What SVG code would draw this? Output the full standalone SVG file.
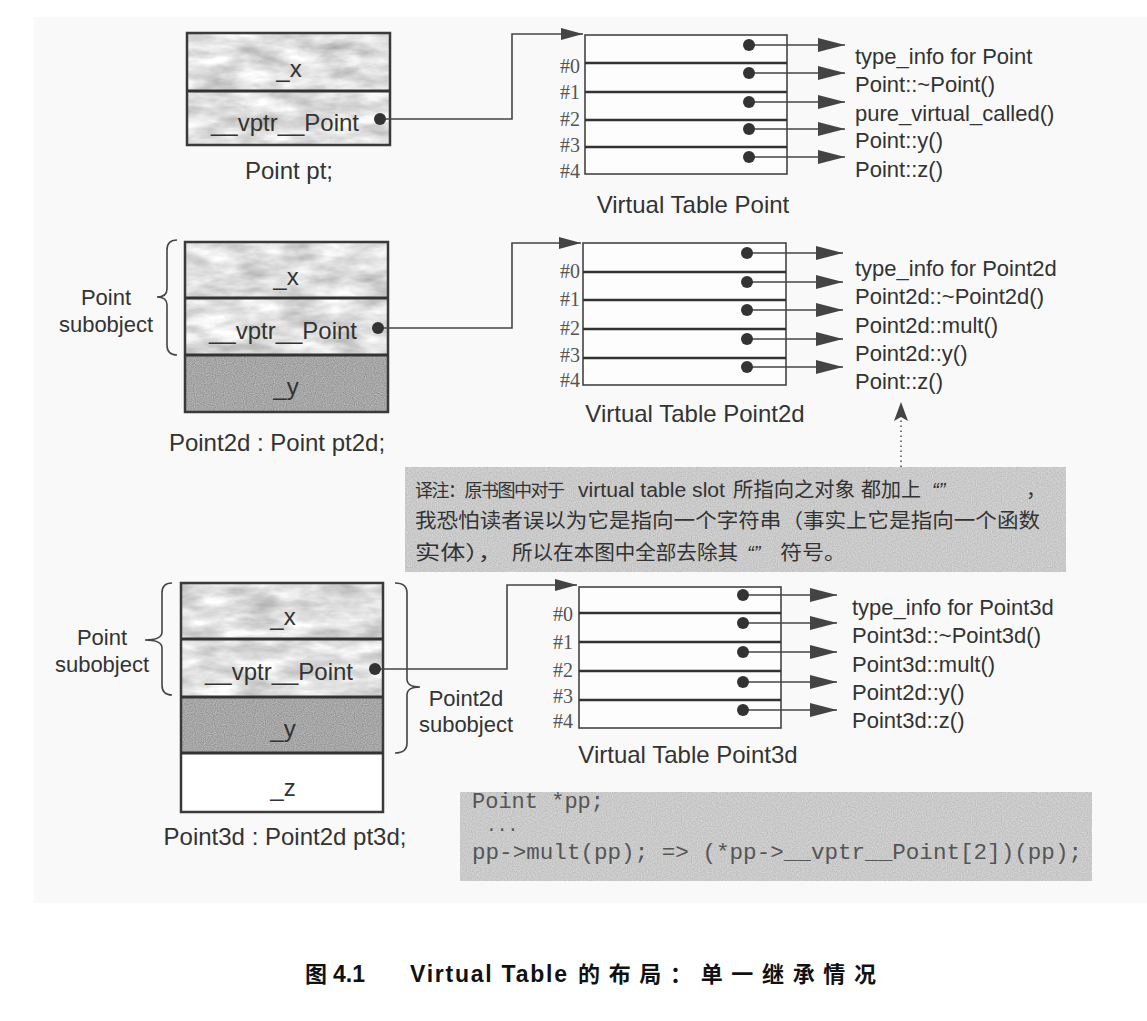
<svg xmlns="http://www.w3.org/2000/svg" width="1147" height="1021" viewBox="0 0 1147 1021">
<defs>
<style>
.t{font-family:"Liberation Sans",Arial,sans-serif;fill:#333}
.big{font-size:24px}
.fn{font-size:22px}
.sub{font-size:22px}
.hash{font-family:"Liberation Serif","Times New Roman",serif;font-size:20px;fill:#555;text-anchor:end}
.mid{text-anchor:middle}
.cjk{font-family:"Noto Sans CJK SC","Noto Sans CJK JP",sans-serif;fill:#333;font-size:20px}
.code{font-family:"Liberation Mono","Courier New",monospace;font-size:22px;fill:#555}
.cap{font-family:"Liberation Sans","Noto Sans CJK SC",sans-serif;font-weight:bold;fill:#111}
.box{fill:none;stroke:#3a3a3a;stroke-width:2.5}
.div{stroke:#333;stroke-width:3}
.tbl{fill:#fdfdfd;stroke:#444;stroke-width:1.6}
.row{stroke:#333;stroke-width:2.6}
.ptr{fill:none;stroke:#444;stroke-width:1.6}
.slot{stroke:#444;stroke-width:1.6;marker-end:url(#ah)}
.dot{fill:#333}
.brace{fill:none;stroke:#444;stroke-width:1.6}
</style>
<marker id="ah" markerWidth="28" markerHeight="14" refX="27" refY="7" orient="auto" markerUnits="userSpaceOnUse">
<path d="M0,0 L27,7 L0,14 z" fill="#444"/>
</marker>
<marker id="ahp" markerWidth="23" markerHeight="12" refX="22" refY="6" orient="auto" markerUnits="userSpaceOnUse">
<path d="M0,0 L22,6 L0,12 z" fill="#444"/>
</marker>
<marker id="ahu" markerWidth="20" markerHeight="14" refX="19" refY="7" orient="auto" markerUnits="userSpaceOnUse">
<path d="M0,0 L19,7 L0,14 L4,7 z" fill="#444"/>
</marker>
<filter id="marble" x="0" y="0" width="1" height="1" color-interpolation-filters="sRGB">
<feTurbulence type="fractalNoise" baseFrequency="0.025 0.07" numOctaves="4" seed="5"/>
<feColorMatrix type="matrix" values="0.45 0 0 0 0.65  0.45 0 0 0 0.65  0.45 0 0 0 0.65  0 0 0 0 1"/>
</filter>
<filter id="stipple" x="0" y="0" width="1" height="1" color-interpolation-filters="sRGB">
<feTurbulence type="fractalNoise" baseFrequency="0.9" numOctaves="1" seed="2"/>
<feColorMatrix type="matrix" values="0.3 0 0 0 0.5  0.3 0 0 0 0.5  0.3 0 0 0 0.5  0 0 0 0 1"/>
</filter>
<filter id="paper" x="0" y="0" width="1" height="1" color-interpolation-filters="sRGB">
<feTurbulence type="fractalNoise" baseFrequency="0.8" numOctaves="1" seed="9"/>
<feColorMatrix type="matrix" values="0.2 0 0 0 0.69  0.2 0 0 0 0.69  0.2 0 0 0 0.69  0 0 0 0 1"/>
</filter>
</defs>

<rect x="0" y="0" width="1147" height="1021" fill="#ffffff"/>
<rect x="34" y="17" width="1113" height="886" fill="#f9f9f9"/>

<!-- Object: Point pt -->
<g id="obj-pt">
<rect x="187" y="33" width="203" height="58" fill="#ddd" filter="url(#marble)"/>
<rect x="187" y="91" width="203" height="54" fill="#ddd" filter="url(#marble)"/>
<rect class="box" x="187" y="33" width="203" height="112"/>
<line class="div" x1="187" y1="91" x2="390" y2="91"/>
<text class="t big mid" x="289" y="77">_x</text>
<text class="t big mid" x="285" y="131">__vptr__Point</text>
<text class="t big mid" x="289" y="179">Point pt;</text>
</g>

<!-- Object: Point2d pt2d -->
<g id="obj-pt2d">
<rect x="185" y="242" width="203" height="56" fill="#ddd" filter="url(#marble)"/>
<rect x="185" y="298" width="203" height="57" fill="#ddd" filter="url(#marble)"/>
<rect x="185" y="355" width="203" height="57" fill="#aaa" filter="url(#stipple)"/>
<rect class="box" x="185" y="242" width="203" height="170"/>
<line class="div" x1="185" y1="298" x2="388" y2="298"/>
<line class="div" x1="185" y1="355" x2="388" y2="355"/>
<text class="t big mid" x="286" y="285">_x</text>
<text class="t big mid" x="283" y="339">__vptr__Point</text>
<text class="t big mid" x="286" y="395">_y</text>
<text class="t big mid" x="277" y="451">Point2d : Point pt2d;</text>
</g>

<g id="lbl-pt2d-point-sub">
<path class="brace" d="M177,240 Q167,240 167,250 L167,289 Q167,297 157,297 Q167,297 167,305 L167,345 Q167,355 177,355"/>
<text class="t sub mid" x="106" y="305">Point</text>
<text class="t sub mid" x="106" y="332">subobject</text>
</g>

<!-- Object: Point3d pt3d -->
<g id="obj-pt3d">
<rect x="181" y="583" width="202" height="56" fill="#ddd" filter="url(#marble)"/>
<rect x="181" y="639" width="202" height="58" fill="#ddd" filter="url(#marble)"/>
<rect x="181" y="697" width="202" height="56" fill="#aaa" filter="url(#stipple)"/>
<rect x="181" y="753" width="202" height="59" fill="#ffffff"/>
<rect class="box" x="181" y="583" width="202" height="229"/>
<line class="div" x1="181" y1="639" x2="383" y2="639"/>
<line class="div" x1="181" y1="697" x2="383" y2="697"/>
<line class="div" x1="181" y1="753" x2="383" y2="753"/>
<text class="t big mid" x="283" y="625">_x</text>
<text class="t big mid" x="279" y="680">__vptr__Point</text>
<text class="t big mid" x="283" y="737">_y</text>
<text class="t big mid" x="283" y="796">_z</text>
<text class="t big mid" x="285" y="845">Point3d : Point2d pt3d;</text>
</g>

<g id="lbl-pt3d-point-sub">
<path class="brace" d="M172,583 Q162,583 162,593 L162,632 Q162,640 145,640 Q162,640 162,648 L162,685 Q162,695 172,695"/>
<text class="t sub mid" x="102" y="645">Point</text>
<text class="t sub mid" x="102" y="672">subobject</text>
</g>

<g id="lbl-pt3d-point2d-sub">
<path class="brace" d="M395,583 Q407,583 407,593 L407,679 Q407,687 420,687 Q407,687 407,695 L407,743 Q407,753 395,753"/>
<text class="t sub mid" x="466" y="706">Point2d</text>
<text class="t sub mid" x="466" y="732">subobject</text>
</g>

<!-- Virtual Table Point -->
<g id="vtbl-point">
<rect class="tbl" x="585" y="35" width="202" height="139"/>
<line class="row" x1="585" y1="63" x2="787" y2="63"/>
<line class="row" x1="585" y1="92" x2="787" y2="92"/>
<line class="row" x1="585" y1="120" x2="787" y2="120"/>
<line class="row" x1="585" y1="147" x2="787" y2="147"/>
<text class="hash" x="580" y="73">#0</text>
<text class="hash" x="580" y="99">#1</text>
<text class="hash" x="580" y="126">#2</text>
<text class="hash" x="580" y="152">#3</text>
<text class="hash" x="580" y="178">#4</text>
<text class="t big mid" x="693" y="213">Virtual Table Point</text>
</g>
<g id="fn-point">
<text class="t fn" x="855" y="64">type_info for Point</text>
<text class="t fn" x="855" y="92">Point::~Point()</text>
<text class="t fn" x="855" y="121">pure_virtual_called()</text>
<text class="t fn" x="855" y="148">Point::y()</text>
<text class="t fn" x="855" y="177">Point::z()</text>
</g>

<!-- Virtual Table Point2d -->
<g id="vtbl-point2d">
<rect class="tbl" x="583" y="243" width="203" height="142"/>
<line class="row" x1="583" y1="272" x2="786" y2="272"/>
<line class="row" x1="583" y1="300" x2="786" y2="300"/>
<line class="row" x1="583" y1="329" x2="786" y2="329"/>
<line class="row" x1="583" y1="358" x2="786" y2="358"/>
<text class="hash" x="580" y="278">#0</text>
<text class="hash" x="580" y="306">#1</text>
<text class="hash" x="580" y="335">#2</text>
<text class="hash" x="580" y="362">#3</text>
<text class="hash" x="580" y="387">#4</text>
<text class="t big mid" x="695" y="422">Virtual Table Point2d</text>
</g>
<g id="fn-point2d">
<text class="t fn" x="855" y="276">type_info for Point2d</text>
<text class="t fn" x="855" y="304">Point2d::~Point2d()</text>
<text class="t fn" x="855" y="333">Point2d::mult()</text>
<text class="t fn" x="855" y="361">Point2d::y()</text>
<text class="t fn" x="855" y="389">Point::z()</text>
</g>

<!-- Virtual Table Point3d -->
<g id="vtbl-point3d">
<rect class="tbl" x="579" y="587" width="202" height="141"/>
<line class="row" x1="579" y1="613" x2="781" y2="613"/>
<line class="row" x1="579" y1="642" x2="781" y2="642"/>
<line class="row" x1="579" y1="671" x2="781" y2="671"/>
<line class="row" x1="579" y1="700" x2="781" y2="700"/>
<text class="hash" x="573" y="621">#0</text>
<text class="hash" x="573" y="649">#1</text>
<text class="hash" x="573" y="677">#2</text>
<text class="hash" x="573" y="703">#3</text>
<text class="hash" x="573" y="728">#4</text>
<text class="t big mid" x="688" y="763">Virtual Table Point3d</text>
</g>
<g id="fn-point3d">
<text class="t fn" x="852" y="615">type_info for Point3d</text>
<text class="t fn" x="852" y="643">Point3d::~Point3d()</text>
<text class="t fn" x="852" y="672">Point3d::mult()</text>
<text class="t fn" x="852" y="700">Point2d::y()</text>
<text class="t fn" x="852" y="728">Point3d::z()</text>
</g>

<!-- Translator's note -->
<g id="note">
<rect x="405" y="467" width="661" height="105" fill="#c9c9c9" filter="url(#paper)"/>
<text class="cjk" x="415" y="497" style="font-size:18px;letter-spacing:-1.5px">译注：原书图中对于</text>
<text class="t" x="578" y="497" style="font-size:20px" textLength="147" lengthAdjust="spacingAndGlyphs" fill="#222">virtual table slot</text>
<text class="cjk" x="733" y="497" textLength="122" lengthAdjust="spacingAndGlyphs">所指向之对象</text>
<text class="cjk" x="861" y="497" textLength="60" lengthAdjust="spacingAndGlyphs">都加上</text>
<text class="t" x="932" y="497" style="font-size:20px;font-style:italic">“”</text>
<text class="cjk" x="1026" y="497">，</text>
<text class="cjk" x="415" y="528" textLength="625" lengthAdjust="spacingAndGlyphs">我恐怕读者误以为它是指向一个字符串（事实上它是指向一个函数</text>
<text class="cjk" x="415" y="560" textLength="88" lengthAdjust="spacingAndGlyphs">实体），</text>
<text class="cjk" x="512" y="560" textLength="226" lengthAdjust="spacingAndGlyphs">所以在本图中全部去除其</text>
<text class="t" x="747" y="560" style="font-size:20px;font-style:italic">“”</text>
<text class="cjk" x="780" y="560" textLength="66" lengthAdjust="spacingAndGlyphs">符号。</text>
</g>

<!-- Code -->
<g id="code">
<rect x="460" y="792" width="632" height="89" fill="#c6c6c6" filter="url(#paper)"/>
<text class="code" x="472" y="808">Point *pp;</text>
<text class="code" x="486" y="831" style="font-size:18px">...</text>
<text class="code" x="472" y="859" textLength="610" lengthAdjust="spacingAndGlyphs">pp-&gt;mult(pp); =&gt; (*pp-&gt;__vptr__Point[2])(pp);</text>
</g>

<!-- Connectors -->
<g id="connectors">
<polyline class="ptr" points="380,119 512,119 512,34 583,34" marker-end="url(#ahp)"/>
<circle class="dot" cx="380" cy="119" r="6"/>
<polyline class="ptr" points="378,328 512,328 512,243 581,243" marker-end="url(#ahp)"/>
<circle class="dot" cx="378" cy="328" r="6"/>
<polyline class="ptr" points="375,669 507,669 507,585 577,585" marker-end="url(#ahp)"/>
<circle class="dot" cx="375" cy="669" r="6"/>

<line class="slot" x1="749" y1="45" x2="845" y2="45"/>
<line class="slot" x1="749" y1="73" x2="845" y2="73"/>
<line class="slot" x1="749" y1="102" x2="845" y2="102"/>
<line class="slot" x1="749" y1="129" x2="845" y2="129"/>
<line class="slot" x1="749" y1="157" x2="845" y2="157"/>
<circle class="dot" cx="749" cy="45" r="6"/>
<circle class="dot" cx="749" cy="73" r="6"/>
<circle class="dot" cx="749" cy="102" r="6"/>
<circle class="dot" cx="749" cy="129" r="6"/>
<circle class="dot" cx="749" cy="157" r="6"/>

<line class="slot" x1="747" y1="253" x2="843" y2="253"/>
<line class="slot" x1="747" y1="282" x2="843" y2="282"/>
<line class="slot" x1="747" y1="310" x2="843" y2="310"/>
<line class="slot" x1="747" y1="339" x2="843" y2="339"/>
<line class="slot" x1="747" y1="367" x2="843" y2="367"/>
<circle class="dot" cx="747" cy="253" r="6"/>
<circle class="dot" cx="747" cy="282" r="6"/>
<circle class="dot" cx="747" cy="310" r="6"/>
<circle class="dot" cx="747" cy="339" r="6"/>
<circle class="dot" cx="747" cy="367" r="6"/>

<line class="slot" x1="743" y1="595" x2="837" y2="595"/>
<line class="slot" x1="743" y1="623" x2="837" y2="623"/>
<line class="slot" x1="743" y1="652" x2="837" y2="652"/>
<line class="slot" x1="743" y1="682" x2="837" y2="682"/>
<line class="slot" x1="743" y1="710" x2="837" y2="710"/>
<circle class="dot" cx="743" cy="595" r="6"/>
<circle class="dot" cx="743" cy="623" r="6"/>
<circle class="dot" cx="743" cy="652" r="6"/>
<circle class="dot" cx="743" cy="682" r="6"/>
<circle class="dot" cx="743" cy="710" r="6"/>

<line x1="901" y1="467" x2="901" y2="402" stroke="#555" stroke-width="1.6" stroke-dasharray="1.5 3.5" marker-end="url(#ahu)"/>
</g>

<!-- Caption -->
<g id="caption">
<text class="cap" x="305" y="982" style="font-size:22px">图</text>
<text class="cap" x="333" y="982" style="font-size:23px">4.1</text>
<text class="cap" x="410" y="982" style="font-size:23px" textLength="157" lengthAdjust="spacing">Virtual Table</text>
<text class="cap" x="578" y="982" style="font-size:22px" textLength="298" lengthAdjust="spacing">的布局：单一继承情况</text>
</g>
</svg>
